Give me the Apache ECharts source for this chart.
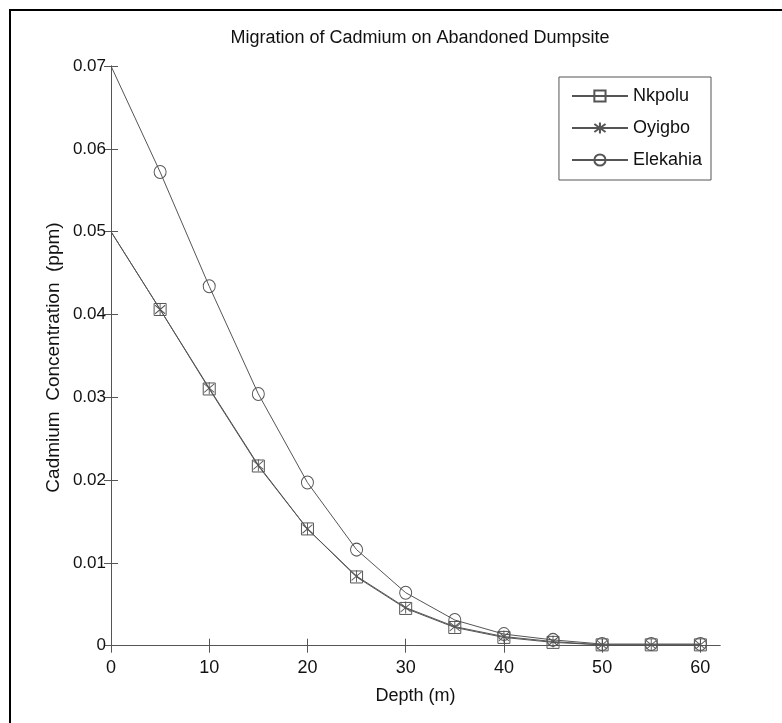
<!DOCTYPE html>
<html>
<head>
<meta charset="utf-8">
<script src="https://cdn.jsdelivr.net/npm/echarts@6/dist/echarts.min.js"></script>
<style>
  html, body { margin: 0; padding: 0; background: #fff; }
  #chart { width: 782px; height: 723px; }
</style>
</head>
<body>
<div id="chart"></div>
<script>
// depth (m) and concentrations (ppm)
var depth = [0, 5, 10, 15, 20, 25, 30, 35, 40, 45, 50, 55, 60];
var nkpolu = [0.05, 0.0406, 0.031, 0.0217, 0.0141, 0.0083, 0.0045, 0.0022, 0.0010, 0.0004, 0.0001, 0.0001, 0.0001];
var oyigbo = [0.05, 0.0406, 0.0311, 0.0218, 0.0141, 0.0084, 0.0046, 0.0023, 0.0011, 0.0005, 0.0001, 0.0001, 0.0001];
var elekahia = [0.07, 0.0572, 0.0434, 0.0304, 0.0197, 0.0116, 0.0064, 0.0031, 0.0014, 0.0007, 0.0002, 0.0002, 0.0002];
var xTicks = [0, 10, 20, 30, 40, 50, 60];
var yTicks = [0, 0.01, 0.02, 0.03, 0.04, 0.05, 0.06, 0.07];

var FONT = '"Liberation Sans", Arial, sans-serif';
var INK = '#555';

// no marker on the first point, like the original
function pts(ys) {
  return depth.map(function (d, i) {
    return i === 0 ? { value: [d, ys[i]], symbol: 'none' } : [d, ys[i]];
  });
}

var chart = echarts.init(document.getElementById('chart'));

function mkSeries(name, ys, symbol, size) {
  return {
    name: name,
    type: 'line',
    data: pts(ys),
    symbol: symbol,
    symbolSize: size,
    showAllSymbol: true,
    lineStyle: { color: INK, width: 1 },
    itemStyle: { color: 'transparent', borderColor: INK, borderWidth: 1 },
    emphasis: { disabled: true }
  };
}

var option = {
  animation: false,
  backgroundColor: '#fff',
  title: {
    text: 'Migration of Cadmium on Abandoned Dumpsite',
    left: 415, top: 24, textAlign: 'center',
    textStyle: { fontFamily: FONT, fontSize: 18, fontWeight: 'normal', color: '#111' }
  },
  legend: {
    orient: 'vertical',
    right: 71, top: 77,
    padding: [8, 9, 9, 12],
    itemWidth: 56, itemHeight: 14, itemGap: 10,
    borderColor: INK, borderWidth: 1, backgroundColor: '#fff',
    textStyle: { fontFamily: FONT, fontSize: 18, color: '#111', lineHeight: 22 },
    data: ['Nkpolu', 'Oyigbo', 'Elekahia']
  },
  grid: { left: 111, right: 62, top: 66, bottom: 74 },
  xAxis: [{
    type: 'value', min: 0, max: 62,
    name: 'Depth (m)', nameLocation: 'middle', nameGap: 38, nameMoveOverlap: false,
    nameTextStyle: { fontFamily: FONT, fontSize: 18, color: '#111' },
    axisLine: { lineStyle: { color: INK } },
    axisTick: { inside: true, length: 7, customValues: xTicks, lineStyle: { color: INK } },
    axisLabel: { customValues: xTicks, margin: 10, fontFamily: FONT, fontSize: 18, color: '#111' },
    splitLine: { show: false }
  }, {
    type: 'value', min: 0, max: 62, position: 'top',
    axisLine: { lineStyle: { color: INK } },
    axisTick: { inside: true, length: 7, customValues: xTicks, lineStyle: { color: INK } },
    axisLabel: { show: false },
    splitLine: { show: false }
  }],
  yAxis: [{
    type: 'value', min: -0.0004, max: 0.07,
    name: 'Cadmium  Concentration  (ppm)', nameLocation: 'middle', nameGap: 48, nameMoveOverlap: false,
    nameTextStyle: { fontFamily: FONT, fontSize: 19, color: '#111' },
    axisLine: { show: true, lineStyle: { color: INK } },
    axisTick: { show: true, inside: true, length: 7, customValues: yTicks, lineStyle: { color: INK } },
    axisLabel: { customValues: yTicks, margin: 5, fontFamily: FONT, fontSize: 17, color: '#111' },
    splitLine: { show: false }
  }, {
    type: 'value', min: -0.0004, max: 0.07, position: 'right',
    axisLine: { show: true, lineStyle: { color: INK } },
    axisTick: { show: true, inside: true, length: 7, customValues: yTicks, lineStyle: { color: INK } },
    axisLabel: { show: false },
    splitLine: { show: false }
  }],
  series: [
    mkSeries('Nkpolu', nkpolu, 'rect', 12),
    mkSeries('Oyigbo', oyigbo, 'path://M10,0L10,20M2.9,2.9L17.1,17.1M2.9,17.1L17.1,2.9', [10, 12]),
    mkSeries('Elekahia', elekahia, 'circle', [12, 13])
  ],
  graphic: [{
    type: 'rect', silent: true, z: 100,
    shape: { x: 10, y: 10, width: 800, height: 800 },
    style: { fill: 'none', stroke: '#000', lineWidth: 2 }
  }]
};

option && chart.setOption(option);
</script>
</body>
</html>
